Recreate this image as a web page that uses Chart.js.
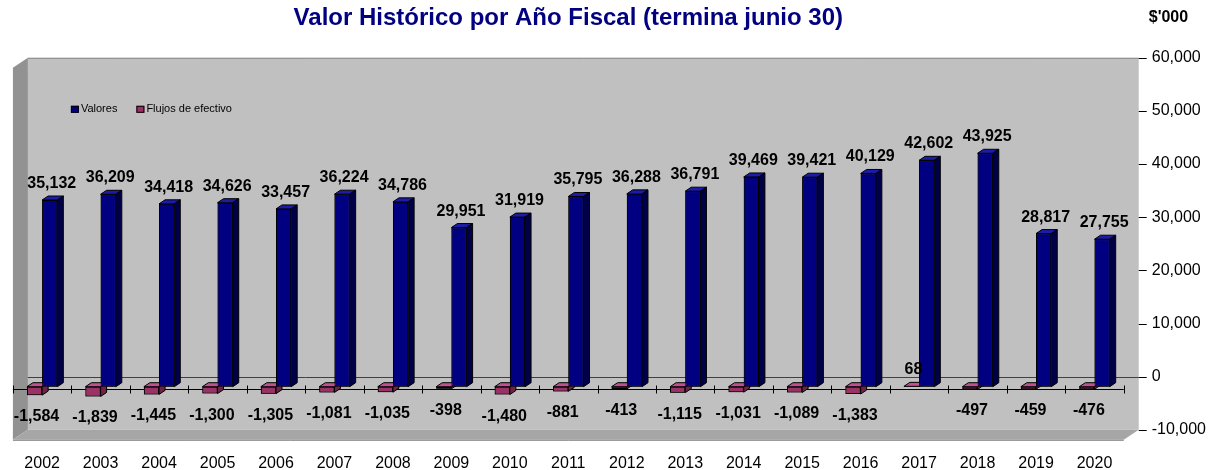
<!DOCTYPE html>
<html>
<head>
<meta charset="utf-8">
<title>Valor Histórico por Año Fiscal</title>
<script src="https://cdn.jsdelivr.net/npm/chart.js@4.4.1/dist/chart.umd.min.js"></script>
<style>
  html, body { margin: 0; padding: 0; background: #fff; }
  #wrap { width: 1219px; height: 470px; }
</style>
</head>
<body>
<div id="wrap"><canvas id="valorChart"></canvas></div>
<script>
// Datos (miles de dólares)
const anios = ['2002', '2003', '2004', '2005', '2006', '2007', '2008', '2009', '2010', '2011',
               '2012', '2013', '2014', '2015', '2016', '2017', '2018', '2019', '2020'];
const valores = [35132, 36209, 34418, 34626, 33457, 36224, 34786, 29951, 31919, 35795,
                 36288, 36791, 39469, 39421, 40129, 42602, 43925, 28817, 27755];
const flujos = [-1584, -1839, -1445, -1300, -1305, -1081, -1035, -398, -1480, -881,
                -413, -1115, -1031, -1089, -1383, 68, -497, -459, -476];
const ticksY = [-10000, 0, 10000, 20000, 30000, 40000, 50000, 60000];

// Profundidad del "cubo" 3D y de cada barra (px)
const DX = 15, DY = 10;
const BDX = 6, BDY = 4;
// Colores de las caras de cada serie (mismo orden que los datasets)
const caras = [
    { top: '#c05090', side: '#6b2347' },
    { top: '#1c1ca8', side: '#000048' }
];
const FUENTE = "'Liberation Sans', Arial, sans-serif";
Chart.defaults.font.family = FUENTE;

function poligono(ctx, pts, fill, stroke) {
    ctx.beginPath();
    ctx.moveTo(pts[0][0], pts[0][1]);
    for (let i = 1; i < pts.length; i++) ctx.lineTo(pts[i][0], pts[i][1]);
    ctx.closePath();
    ctx.fillStyle = fill;
    ctx.fill();
    if (stroke) {
        ctx.strokeStyle = stroke;
        ctx.lineWidth = 1;
        ctx.stroke();
    }
}

function linea(ctx, x1, y1, x2, y2, color) {
    ctx.beginPath();
    ctx.moveTo(x1, y1);
    ctx.lineTo(x2, y2);
    ctx.strokeStyle = color;
    ctx.lineWidth = 1;
    ctx.stroke();
}

// Paredes, piso y ejes al estilo 3D de Excel
const fondo3D = {
    id: 'fondo3D',
    beforeDatasetsDraw(chart) {
        const { ctx, chartArea: a, scales } = chart;
        const L = a.left, R = a.right, T = a.top, B = a.bottom;
        ctx.save();
        // pared trasera
        poligono(ctx, [[L + DX, T], [R + DX, T], [R + DX, B], [L + DX, B]], '#c0c0c0');
        linea(ctx, L + DX, T + 0.5, R + DX, T + 0.5, '#8a8a8a');
        // pared izquierda
        poligono(ctx, [[L, T + DY], [L + DX, T], [L + DX, B], [L, B + DY]], '#929292');
        // piso
        poligono(ctx, [[L, B + DY], [L + DX, B], [R + DX, B], [R, B + DY]], '#a6a6a6');
        linea(ctx, L, B + DY + 0.5, R, B + DY + 0.5, '#808080');

        // línea del cero en la pared trasera
        const y0 = Math.round(scales.y2.getPixelForValue(0)) + 0.5;
        linea(ctx, L + DX, y0, R + DX, y0, '#404040');

        // eje X frontal con sus marcas
        const yx = Math.round(scales.y.getPixelForValue(0)) + 2.5;
        linea(ctx, L, yx, R, yx, '#000');
        const paso = scales.x.getPixelForValue(1) - scales.x.getPixelForValue(0);
        const x0 = scales.x.getPixelForValue(0) - paso / 2;
        for (let i = 0; i <= anios.length; i++) {
            const x = Math.round(x0 + i * paso) + 0.5;
            linea(ctx, x, yx - 4, x, yx + 4, '#000');
        }

        // marcas del eje derecho
        scales.y2.ticks.forEach(t => {
            const y = Math.round(scales.y2.getPixelForValue(t.value)) + 0.5;
            linea(ctx, R + DX, y, R + DX + 8, y, '#000');
        });
        ctx.restore();
    }
};

// Caras laterales/superiores, etiquetas de datos y leyenda
const barras3D = {
    id: 'barras3D',
    afterDatasetsDraw(chart) {
        const { ctx, chartArea: a } = chart;
        ctx.save();
        chart.data.datasets.forEach((ds, i) => {
            const meta = chart.getDatasetMeta(i);
            meta.data.forEach(bar => {
                const { x, y, base, width } = bar.getProps(['x', 'y', 'base', 'width'], true);
                const izq = x - width / 2, der = x + width / 2;
                const arriba = Math.min(y, base), abajo = Math.max(y, base);
                poligono(ctx, [[izq, arriba], [izq + BDX, arriba - BDY], [der + BDX, arriba - BDY], [der, arriba]],
                    caras[i].top, '#000');
                poligono(ctx, [[der, arriba], [der + BDX, arriba - BDY], [der + BDX, abajo - BDY], [der, abajo]],
                    caras[i].side, '#000');
                bar.draw(ctx);
            });
        });

        // etiquetas de datos
        ctx.font = 'bold 16px ' + FUENTE;
        ctx.fillStyle = '#000';
        ctx.textAlign = 'center';
        ctx.textBaseline = 'alphabetic';
        chart.data.datasets.forEach((ds, i) => {
            const meta = chart.getDatasetMeta(i);
            meta.data.forEach((bar, j) => {
                const v = ds.data[j];
                const { x, y } = bar.getProps(['x', 'y'], true);
                const yt = v >= 0 ? y - BDY - 8 : y + 26;
                ctx.fillText(v.toLocaleString('en-US'), x + 2, yt);
            });
        });

        // leyenda dentro del área de trazado
        ctx.font = '11px ' + FUENTE;
        ctx.textAlign = 'left';
        ctx.textBaseline = 'middle';
        let lx = a.left + 58;
        const ly = a.top + 51;
        chart.data.datasets.slice().reverse().forEach(ds => {
            ctx.fillStyle = ds.backgroundColor;
            ctx.fillRect(lx, ly - 3, 8, 7);
            ctx.strokeStyle = '#000';
            ctx.strokeRect(lx + 0.5, ly - 2.5, 7, 6);
            ctx.fillStyle = '#000';
            ctx.fillText(ds.label, lx + 10, ly);
            lx += 10 + ctx.measureText(ds.label).width + 19;
        });

        // unidad arriba a la derecha
        ctx.font = 'bold 16px ' + FUENTE;
        ctx.fillText("$'000", a.right + 25, 18);
        ctx.restore();
    }
};

const ctx = document.getElementById('valorChart').getContext('2d');
const valorChart = new Chart(ctx, {
    type: 'bar',
    data: {
        labels: anios,
        datasets: [
            {
                label: 'Flujos de efectivo',
                data: flujos,
                backgroundColor: '#993366',
                borderColor: '#000',
                borderWidth: 1,
                borderSkipped: false
            },
            {
                label: 'Valores',
                data: valores,
                backgroundColor: '#000080',
                borderColor: '#000',
                borderWidth: 1,
                borderSkipped: false
            }
        ]
    },
    options: {
        responsive: true,
        maintainAspectRatio: false,
        animation: false,
        categoryPercentage: 0.52,
        barPercentage: 1.0,
        layout: {
            // el padding de los ticks se cuenta dos veces en el tamaño de los ejes
            padding: { left: 10, right: -15, top: 0, bottom: -27 }
        },
        plugins: {
            legend: { display: false },
            tooltip: { enabled: false },
            title: {
                display: true,
                text: 'Valor Histórico por Año Fiscal (termina junio 30)',
                color: '#000080',
                fullSize: false,
                font: { size: 24, weight: 'bold' },
                padding: { top: 4, bottom: 25 }
            }
        },
        scales: {
            x: {
                grid: { display: false, drawTicks: false },
                border: { display: false },
                ticks: {
                    color: '#000',
                    font: { size: 16 },
                    padding: 24,
                    maxRotation: 0,
                    autoSkip: false
                }
            },
            // eje de las barras: plano frontal, 10 px por debajo de la pared trasera
            y: {
                display: false,
                min: -8108,
                max: 61892
            },
            // eje visible: pared trasera
            y2: {
                position: 'right',
                min: -10000,
                max: 60000,
                grid: { display: false, drawTicks: false },
                border: { display: false },
                afterBuildTicks: scale => {
                    scale.ticks = ticksY.map(v => ({ value: v }));
                },
                ticks: {
                    color: '#000',
                    font: { size: 16 },
                    padding: 28,
                    callback: v => v.toLocaleString('en-US')
                }
            }
        }
    },
    plugins: [fondo3D, barras3D]
});
</script>
</body>
</html>
